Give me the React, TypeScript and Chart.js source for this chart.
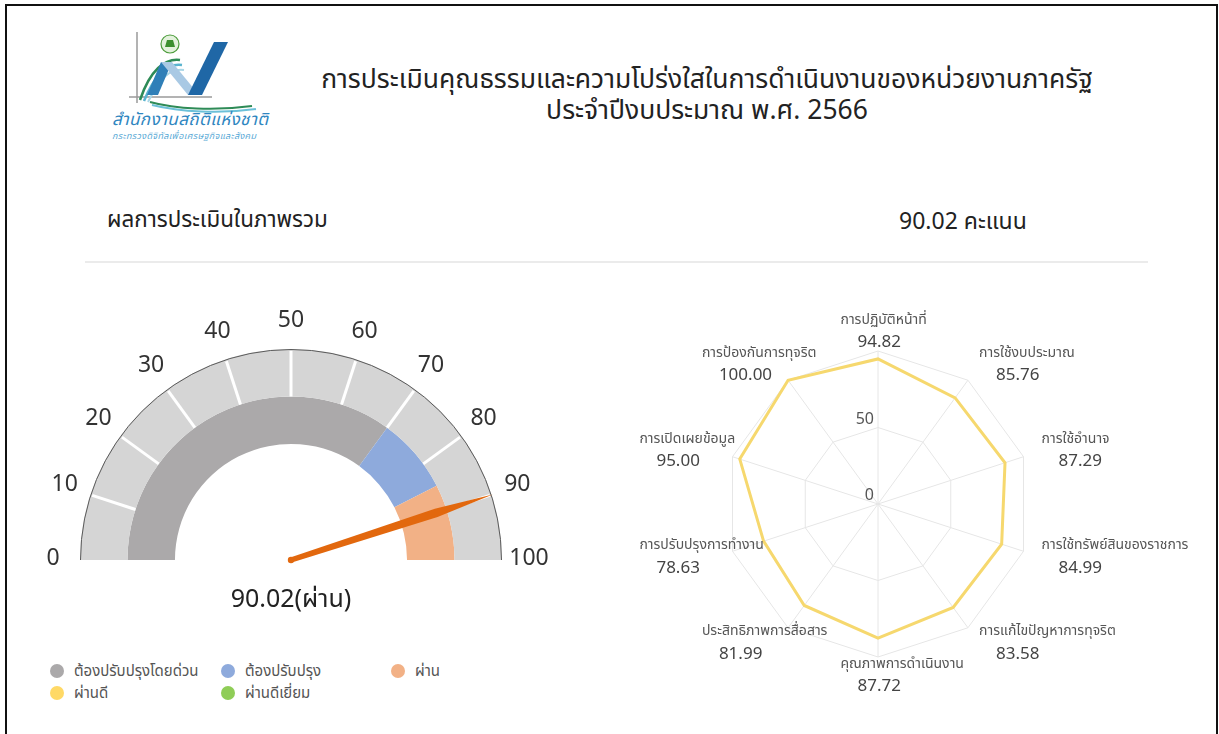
import React, { useEffect, useRef } from 'react';
import { Chart, registerables } from 'chart.js';

Chart.register(...registerables);

const FONT = '"Noto Sans Thai", "Noto Sans", "DejaVu Sans", sans-serif';

// ---------- data ----------
const titleLines = [
  'การประเมินคุณธรรมและความโปร่งใสในการดำเนินงานของหน่วยงานภาครัฐ',
  'ประจำปีงบประมาณ พ.ศ. 2566',
];
const orgName = 'สำนักงานสถิติแห่งชาติ';
const orgSub = 'กระทรวงดิจิทัลเพื่อเศรษฐกิจและสังคม';
const overallLabel = 'ผลการประเมินในภาพรวม';
const overallScore = 90.02;
const overallUnit = 'คะแนน';
const overallResult = 'ผ่าน';

const gaugeTicks = [0, 10, 20, 30, 40, 50, 60, 70, 80, 90, 100];
const scaleSegments = [10, 10, 10, 10, 10, 10, 10, 10, 10, 10];
const levelNames = ['ต้องปรับปรุงโดยด่วน', 'ต้องปรับปรุง', 'ผ่าน', 'ผ่านดี', 'ผ่านดีเยี่ยม'];
const levelColors = ['#aba9aa', '#8eaadc', '#f2b186', '#ffd966', '#8fcd57'];
const levelSpans = [70, 15, 15, 0, 0];

const radarLabels = [
  'การปฏิบัติหน้าที่',
  'การใช้งบประมาณ',
  'การใช้อำนาจ',
  'การใช้ทรัพย์สินของราชการ',
  'การแก้ไขปัญหาการทุจริต',
  'คุณภาพการดำเนินงาน',
  'ประสิทธิภาพการสื่อสาร',
  'การปรับปรุงการทำงาน',
  'การเปิดเผยข้อมูล',
  'การป้องกันการทุจริต',
];
const radarValues = [94.82, 85.76, 87.29, 84.99, 83.58, 87.72, 81.99, 78.63, 95.0, 100.0];
const radarMin = 0;
const radarMax = 100;
const radarStep = 50;

// ---------- plugins ----------
const gaugeDecor = {
  id: 'gaugeDecor',
  afterDatasetsDraw(chart: any) {
    const ctx = chart.ctx as CanvasRenderingContext2D;
    const meta = chart.getDatasetMeta(0);
    const arcs = meta.data as any[];
    if (!arcs.length) return;
    const cx = arcs[0].x;
    const cy = arcs[0].y;
    const outerR = arcs[0].outerRadius;
    const innerR = arcs[0].innerRadius;
    const start = arcs[0].startAngle;
    const end = arcs[arcs.length - 1].endAngle;
    const total = meta.total || 100;
    const angleOf = (v: number) => start + (v / total) * (end - start);

    ctx.save();
    // separators
    ctx.strokeStyle = '#ffffff';
    ctx.lineWidth = 3;
    for (let i = 1; i < arcs.length; i++) {
      const a = arcs[i].startAngle;
      ctx.beginPath();
      ctx.moveTo(cx + Math.cos(a) * innerR, cy + Math.sin(a) * innerR);
      ctx.lineTo(cx + Math.cos(a) * (outerR - 2), cy + Math.sin(a) * (outerR - 2));
      ctx.stroke();
    }
    // outline
    ctx.strokeStyle = '#5a5a5a';
    ctx.lineWidth = 1;
    ctx.beginPath();
    ctx.arc(cx, cy, outerR - 0.5, start, end);
    ctx.stroke();

    // tick labels
    ctx.fillStyle = '#333333';
    ctx.font = `23px ${FONT}`;
    ctx.textAlign = 'center';
    ctx.textBaseline = 'middle';
    gaugeTicks.forEach((t) => {
      const a = angleOf(t);
      const r = outerR + 27;
      ctx.fillText(String(t), cx + Math.cos(a) * r, cy + Math.sin(a) * r);
    });

    // needle
    const a = angleOf(overallScore);
    const L = outerR + 1;
    const ux = Math.cos(a), uy = Math.sin(a);
    const nx = -uy, ny = ux;
    const w0 = 2.6, w1 = 4.4;
    const m = L * 0.72;
    ctx.fillStyle = '#e2680e';
    ctx.beginPath();
    ctx.moveTo(cx + nx * w0, cy + ny * w0);
    ctx.lineTo(cx + ux * m + nx * w1, cy + uy * m + ny * w1);
    ctx.lineTo(cx + ux * L, cy + uy * L);
    ctx.lineTo(cx + ux * m - nx * w1, cy + uy * m - ny * w1);
    ctx.lineTo(cx - nx * w0, cy - ny * w0);
    ctx.closePath();
    ctx.fill();
    ctx.beginPath();
    ctx.arc(cx, cy, w0 + 0.6, 0, Math.PI * 2);
    ctx.fill();

    // centre text
    ctx.fillStyle = '#222222';
    ctx.font = `25px ${FONT}`;
    ctx.fillText(`${overallScore.toFixed(2)}(${overallResult})`, cx, cy + 42);
    ctx.restore();
  },
};

const radarDecor = {
  id: 'radarDecor',
  afterDraw(chart: any) {
    const ctx = chart.ctx as CanvasRenderingContext2D;
    const scale = chart.scales.r;
    const ds = chart.data.datasets[0];
    ctx.save();
    // tick labels
    ctx.fillStyle = '#555555';
    ctx.font = `16px ${FONT}`;
    ctx.textAlign = 'right';
    ctx.textBaseline = 'middle';
    scale.ticks.forEach((t: any) => {
      if (t.value >= scale.max) return;
      const d = scale.getDistanceFromCenterForValue(t.value);
      ctx.fillText(String(t.value), scale.xCenter - 4, scale.yCenter - d - 7);
    });
    // point labels
    ctx.textAlign = 'left';
    const boxW = 75;
    chart.data.labels.forEach((lab: string, i: number) => {
      const p = scale.getPointPosition(i, scale.drawingArea + 19);
      let left: number;
      if (Math.abs(p.x - scale.xCenter) < 2) left = p.x - boxW / 2;
      else if (p.x > scale.xCenter) left = p.x;
      else left = p.x - boxW;
      ctx.fillStyle = '#555555';
      ctx.font = `14px ${FONT}`;
      ctx.fillText(lab, left, p.y - 11);
      ctx.fillStyle = '#444444';
      ctx.font = `17px ${FONT}`;
      ctx.fillText(Number(ds.data[i]).toFixed(2), left + 17, p.y + 12);
    });
    ctx.restore();
  },
};

function Logo() {
  return (
    <svg width={180} height={125} viewBox="100 25 180 125" style={{ position: 'absolute', left: 100, top: 25 }}>
      <line x1={137} y1={32} x2={137} y2={103} stroke="#9a9a9a" strokeWidth={1.5} />
      <line x1={129} y1={97} x2={212} y2={97} stroke="#9a9a9a" strokeWidth={1.5} />
      <path d="M140 100 C150 70, 165 58, 180 60" fill="none" stroke="#2e8b57" strokeWidth={2.5} />
      <path d="M144 101 C155 74, 168 63, 182 65" fill="none" stroke="#5ab4cf" strokeWidth={2.5} />
      <path d="M148 102 C160 78, 170 68, 184 70" fill="none" stroke="#a8d6e6" strokeWidth={2} />
      <polygon points="147,95 158,95 172,62 161,62" fill="#2f7fb8" />
      <polygon points="161,62 172,62 199,95 188,95" fill="#a9c9e4" />
      <polygon points="188,95 202,95 228,42 214,42" fill="#1f67a6" />
      <path d="M150 102 C175 109, 215 111, 252 106" fill="none" stroke="#2e8b57" strokeWidth={2} />
      <path d="M152 105 C180 112, 220 114, 256 109" fill="none" stroke="#6cc0d8" strokeWidth={2} />
      <circle cx={170} cy={44} r={9} fill="#e3f2dc" stroke="#4d9c3c" strokeWidth={1.2} />
      <path d="M165 47 L175 47 L173 40 L167 40 Z" fill="#3c8f2f" />
      <text x={112} y={125} fontSize={17} fontStyle="italic" fill="#2f86c0" fontFamily={FONT} textLength={156}>
        {orgName}
      </text>
      <text x={112} y={139} fontSize={9} fontStyle="italic" fill="#5aaad6" fontFamily={FONT} textLength={144}>
        {orgSub}
      </text>
    </svg>
  );
}

export default function App() {
  const gaugeRef = useRef<HTMLCanvasElement>(null);
  const radarRef = useRef<HTMLCanvasElement>(null);

  useEffect(() => {
    const gauge = new Chart(gaugeRef.current as HTMLCanvasElement, {
      type: 'doughnut',
      data: {
        labels: levelNames,
        datasets: [
          { label: 'scale', data: scaleSegments, backgroundColor: '#d5d5d5', borderWidth: 0, hoverOffset: 0 } as any,
          { label: 'levels', data: levelSpans, backgroundColor: levelColors, borderWidth: 0, hoverOffset: 0 } as any,
        ],
      },
      options: {
        animation: false,
        responsive: false,
        events: [],
        rotation: -90,
        circumference: 180,
        cutout: '55%',
        layout: { padding: { left: 50, right: 50, top: 49, bottom: 60 } },
        plugins: { legend: { display: false }, tooltip: { enabled: false } },
      } as any,
      plugins: [gaugeDecor],
    });

    const radar = new Chart(radarRef.current as HTMLCanvasElement, {
      type: 'radar',
      data: {
        labels: radarLabels,
        datasets: [
          {
            label: 'score',
            data: radarValues,
            borderColor: '#f6d86e',
            backgroundColor: 'rgba(0,0,0,0)',
            borderWidth: 3,
            fill: false,
            pointRadius: 0,
            tension: 0,
          },
        ],
      },
      options: {
        animation: false,
        responsive: false,
        events: [],
        layout: { padding: { left: 140, right: 140, top: 57, bottom: 57 } },
        plugins: { legend: { display: false }, tooltip: { enabled: false } },
        scales: {
          r: {
            min: radarMin,
            max: radarMax,
            ticks: { display: false, stepSize: radarStep },
            grid: { color: '#e6e6e6', lineWidth: 1 },
            angleLines: { color: '#e6e6e6', lineWidth: 1 },
            pointLabels: { display: false },
          },
        },
      } as any,
      plugins: [radarDecor],
    });

    return () => {
      gauge.destroy();
      radar.destroy();
    };
  }, []);

  const legendPos = [
    { x: 57, y: 671 },
    { x: 228, y: 671 },
    { x: 398, y: 671 },
    { x: 57, y: 693 },
    { x: 228, y: 693 },
  ];

  return (
    <div
      style={{
        position: 'absolute',
        left: 0,
        top: 0,
        width: 1219,
        height: 734,
        overflow: 'hidden',
        background: '#ffffff',
        fontFamily: FONT,
        color: '#222',
      }}
    >
      <div
        style={{
          position: 'absolute',
          left: 5,
          top: 4,
          width: 1213,
          height: 800,
          boxSizing: 'border-box',
          border: '2px solid #111',
        }}
      />
      <Logo />
      <div style={{ position: 'absolute', left: 257, width: 900, top: 65, textAlign: 'center', fontSize: 26.5, lineHeight: '31px', color: '#222' }}>
        <div>{titleLines[0]}</div>
        <div>{titleLines[1]}</div>
      </div>
      <div style={{ position: 'absolute', left: 107, top: 205, fontSize: 22.4, lineHeight: '30px', color: '#222' }}>{overallLabel}</div>
      <div style={{ position: 'absolute', left: 899, top: 207, fontSize: 23, lineHeight: '30px', color: '#222' }}>
        {overallScore.toFixed(2)} {overallUnit}
      </div>
      <div style={{ position: 'absolute', left: 85, top: 261, width: 1063, height: 2, background: '#ebebeb' }} />

      <canvas ref={gaugeRef} width={522} height={320} style={{ position: 'absolute', left: 30, top: 300 }} />
      <canvas ref={radarRef} width={700} height={420} style={{ position: 'absolute', left: 528, top: 294 }} />

      {levelNames.map((n, i) => (
        <div key={n} style={{ position: 'absolute', left: legendPos[i].x - 7, top: legendPos[i].y - 11, height: 22, display: 'flex', alignItems: 'center', fontSize: 15, color: '#555' }}>
          <span style={{ width: 14, height: 14, borderRadius: 7, background: levelColors[i], display: 'inline-block', marginRight: 10 }} />
          <span>{n}</span>
        </div>
      ))}
    </div>
  );
}
